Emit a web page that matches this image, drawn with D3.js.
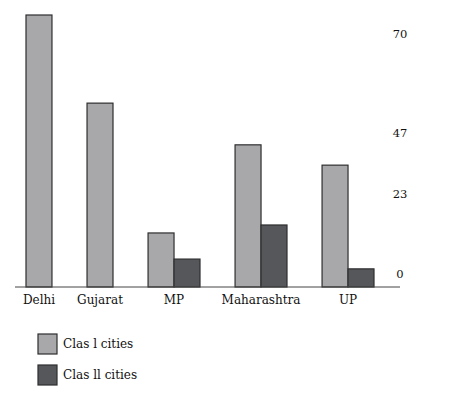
<!DOCTYPE html>
<html>
<head>
<meta charset="utf-8">
<script src="https://cdn.jsdelivr.net/npm/d3@7"></script>
<style>
  body { margin: 0; background: #fff; }
</style>
</head>
<body>
<div id="chart"></div>
<script>
// data
const states = ["Delhi", "Gujarat", "MP", "Maharashtra", "UP"];
const class1 = [75, 50.7, 14.9, 39.2, 33.6];
const class2 = [0, 0, 7.7, 17.1, 5.0];
const seriesNames = ["Clas l cities", "Clas ll cities"];
const tickLabels = [0, 23, 47, 70];

const w = 451;
const h = 400;
const baseY = 287;
const colors = ["#a8a8aa", "#56575b"];
const serif = "'DejaVu Serif', 'Liberation Serif', serif";

const svg = d3.select('#chart')
    .append('svg')
    .attr('width', w)
    .attr('height', h)
    .style('font-family', serif);

// bar heights
const y = d3.scaleLinear()
    .domain([0, 75])
    .range([baseY, 15]);

// the printed axis labels are not evenly spaced in the figure
const yLabel = d3.scaleLinear()
    .domain(tickLabels)
    .range([274, 194, 133, 33.5]);

// each group is as wide as the bars it holds, plus a gap
const barUnit = 1, gapUnit = 1.35;
const groups = states.map((s, i) => {
    const bars = [class1[i], class2[i]]
        .map((v, k) => ({ v, k }))
        .filter(d => d.v > 0);
    return { state: s, bars };
});
let cursor = 0;
groups.forEach((g, i) => {
    g.start = cursor;
    cursor += g.bars.length * barUnit;
    g.end = cursor;
    if (i < groups.length - 1) cursor += gapUnit;
});
const x = d3.scaleLinear()
    .domain([0, cursor])
    .range([26, 374]);
const bw = x(barUnit) - x(0);

const g = svg.selectAll('g.group')
    .data(groups)
    .enter()
    .append('g')
    .attr('class', 'group');

g.selectAll('rect')
    .data(d => d.bars.map((b, j) => ({ ...b, x0: d.start + j * barUnit })))
    .enter()
    .append('rect')
    .attr('x', d => x(d.x0))
    .attr('y', d => y(d.v))
    .attr('width', bw)
    .attr('height', d => baseY - y(d.v))
    .attr('fill', d => colors[d.k])
    .attr('stroke', '#2e2e30')
    .attr('stroke-width', 1.2);

// baseline
svg.append('line')
    .attr('x1', 15).attr('x2', 400)
    .attr('y1', baseY).attr('y2', baseY)
    .attr('stroke', '#444')
    .attr('stroke-width', 1);

// category labels
g.append('text')
    .attr('x', d => (x(d.start) + x(d.end)) / 2)
    .attr('y', 304)
    .attr('text-anchor', 'middle')
    .style('font-family', serif)
    .style('font-size', '12px')
    .style('fill', '#111')
    .text(d => d.state);

// right-side labels
const yAxis = d3.axisRight(yLabel).tickValues(tickLabels).tickSize(0).tickPadding(0);
const ax = svg.append('g')
    .attr('transform', 'translate(400,0)')
    .call(yAxis);
ax.select('.domain').remove();
ax.selectAll('text')
    .attr('text-anchor', 'middle')
    .style('font-family', serif)
    .style('font-size', '11.5px')
    .style('fill', '#111');

// legend
const legend = svg.selectAll('g.legend')
    .data(seriesNames)
    .enter()
    .append('g')
    .attr('class', 'legend')
    .attr('transform', (d, i) => `translate(38,${334 + i * 31})`);
legend.append('rect')
    .attr('width', 19)
    .attr('height', 20)
    .attr('fill', (d, i) => colors[i])
    .attr('stroke', '#2e2e30')
    .attr('stroke-width', 1.2);
legend.append('text')
    .attr('x', 25)
    .attr('y', 14)
    .style('font-family', serif)
    .style('font-size', '12px')
    .style('fill', '#111')
    .text(d => d);
</script>
</body>
</html>
